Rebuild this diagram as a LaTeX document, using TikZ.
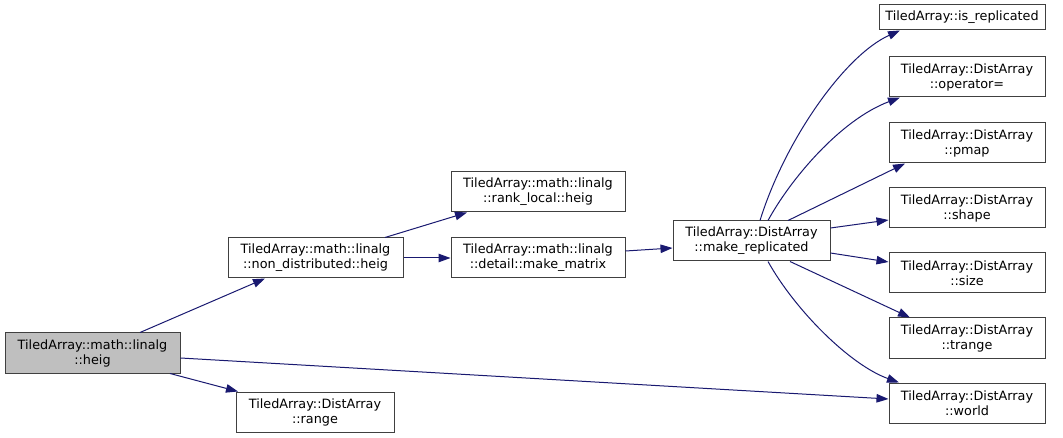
\documentclass[tikz,border=0pt]{standalone}
\usepackage{fontspec}
\setmainfont{DejaVu Sans}
\usetikzlibrary{arrows.meta}
\definecolor{edgeblue}{HTML}{191970}
\definecolor{boxline}{HTML}{404040}
\definecolor{rootfill}{HTML}{BFBFBF}
\tikzset{
  fn/.style={draw=boxline, line width=1pt, fill=white, inner sep=0pt, align=center,
    minimum height=40pt, font=\fontsize{12.8}{15}\selectfont},
  root/.style={fn, fill=rootfill},
  call/.style={draw=edgeblue, line width=1pt, -{Triangle[length=12pt,width=8.5pt]}, fill=none},
}
\begin{document}
\begin{tikzpicture}[x=1pt,y=-1pt]
\useasboundingbox (0,0) rectangle (1063,438);
% nodes
\node[root, minimum width=175pt] (heig) at (92.5,353) {TiledArray::math::linalg\\::heig};
\node[fn, minimum width=175pt] (nd) at (315.5,258) {TiledArray::math::linalg\\::non\_distributed::heig};
\node[fn, minimum width=158pt] (range) at (315,412) {TiledArray::DistArray\\::range};
\node[fn, minimum width=174pt] (rl) at (538,192) {TiledArray::math::linalg\\::rank\_local::heig};
\node[fn, minimum width=174pt] (mm) at (538,258) {TiledArray::math::linalg\\::detail::make\_matrix};
\node[fn, minimum width=157pt] (mr) at (751.5,241) {TiledArray::DistArray\\::make\_replicated};
\node[fn, minimum width=166pt, minimum height=25pt] (isr) at (962,17.5) {TiledArray::is\_replicated};
\node[fn, minimum width=156pt] (opeq) at (967,77) {TiledArray::DistArray\\::operator=};
\node[fn, minimum width=156pt] (pmap) at (967,143) {TiledArray::DistArray\\::pmap};
\node[fn, minimum width=156pt] (shape) at (967,208) {TiledArray::DistArray\\::shape};
\node[fn, minimum width=156pt] (size) at (967,273) {TiledArray::DistArray\\::size};
\node[fn, minimum width=156pt] (trange) at (967,338) {TiledArray::DistArray\\::trange};
\node[fn, minimum width=156pt] (world) at (967,403) {TiledArray::DistArray\\::world};
% edges
\draw[call] ([xshift=47.5pt]heig.north) -- ([xshift=-50.5pt]nd.south);
\draw[call] ([xshift=77.5pt]heig.south) -- ([xshift=-77pt]range.north);
\draw[call] ([yshift=-5pt]heig.east) -- ([yshift=4pt]world.west);
\draw[call] ([xshift=69.5pt]nd.north) -- ([xshift=-71pt]rl.south);
\draw[call] (nd.east) -- (mm.west);
\draw[call] ([yshift=7pt]mm.east) -- ([yshift=-7pt]mr.west);
\draw[call] ([xshift=8.5pt]mr.north) .. controls (785,140) and (845,55) .. ([xshift=-62pt]isr.south);
\draw[call] ([xshift=16.5pt]mr.north) .. controls (790,180) and (840,120) .. ([xshift=-67pt]opeq.south);
\draw[call] ([xshift=36.5pt]mr.north) -- ([xshift=-62pt]pmap.south);
\draw[call] ([yshift=13pt]mr.east) -- ([yshift=-12pt]shape.west);
\draw[call] ([yshift=-12pt]mr.east) -- ([yshift=11pt]size.west);
\draw[call] ([xshift=38.5pt]mr.south) -- ([xshift=-57pt]trange.north);
\draw[call] ([xshift=16.5pt]mr.south) .. controls (795,310) and (850,365) .. ([xshift=-68pt]world.north);
\end{tikzpicture}
\end{document}
